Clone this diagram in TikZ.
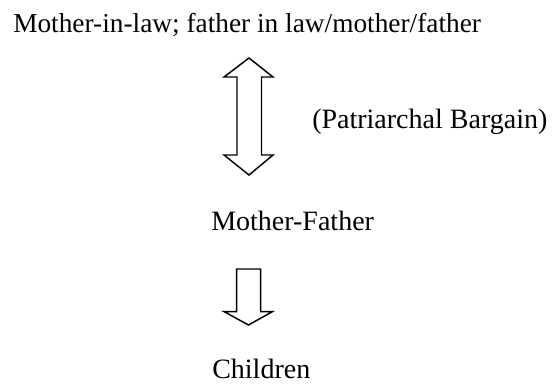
\documentclass[tikz,border=0pt]{standalone}
\usepackage{fontspec}
\setmainfont{Liberation Serif}
\begin{document}
\begin{tikzpicture}[x=0.75pt,y=-0.75pt,
  lbl/.style={anchor=base west,inner sep=0pt,font=\fontsize{21}{25}\selectfont},
  arrowshape/.style={draw=black,line width=1.1pt,line join=miter,fill=white}]
\useasboundingbox (0,0) rectangle (555,383);
\node[lbl,font=\fontsize{20.5}{25}\selectfont] (top) at (13,32) {Mother-in-law; father in law/mother/father};
\node[lbl] (pb) at (312,128) {(Patriarchal Bargain)};
\node[lbl] (mf) at (211,230) {Mother-Father};
\node[lbl] (ch) at (212,378) {Children};
% double arrow
\draw[arrowshape] (249,58) -- (273,77) -- (261.5,77) -- (261.5,155) -- (273,155)
  -- (249,175) -- (224,155) -- (237,155) -- (237,77) -- (224,77) -- cycle;
% down arrow
\draw[arrowshape] (236.7,269) -- (260.7,269) -- (260.7,311.7) -- (272.3,311.7)
  -- (248.5,325) -- (224.3,311.7) -- (236.7,311.7) -- cycle;
\end{tikzpicture}
\end{document}
